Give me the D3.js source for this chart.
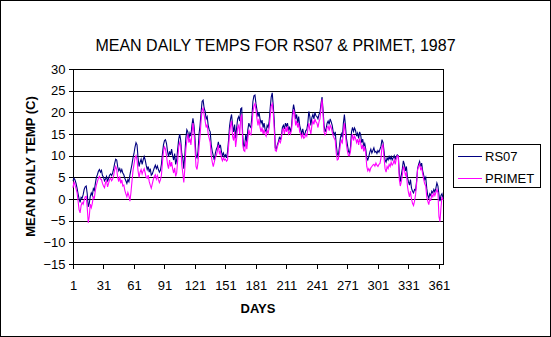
<!DOCTYPE html>
<html>
<head>
<meta charset="utf-8">
<script src="https://cdn.jsdelivr.net/npm/d3@7"></script>
<style>
  body { margin: 0; background: #fff; }
  svg { display: block; }
  text { font-family: "Liberation Sans", Arial, sans-serif; fill: #000; }
</style>
</head>
<body>
<svg id="chart" width="551" height="337"></svg>
<script>
// ---- data ----
const rs07 = [
  4.2, 4.8, 4.4, 3.6, 2.5, 1.2, 0.0, -0.8, 0.4, 0.2,
  1.0, 2.2, 2.8, 3.0, 1.2, -1.8, -1.0, 0.6, 1.4, 0.8,
  2.4, 2.0, 3.6, 5.0, 5.6, 6.4, 6.8, 6.2, 6.6, 5.4,
  5.0, 4.2, 4.6, 5.2, 4.0, 4.8, 5.5, 5.8, 5.4, 6.0,
  7.0, 8.2, 9.2, 9.0, 7.4, 6.5, 7.0, 6.2, 6.8, 6.0,
  5.6, 4.8, 4.2, 3.6, 4.5, 4.0, 5.5, 6.8, 8.0, 9.5,
  10.5, 12.0, 13.0, 12.5, 9.5, 7.5, 8.5, 9.2, 8.0, 9.0,
  9.8, 9.0, 7.8, 6.8, 7.5, 6.2, 7.0, 5.5, 5.8, 6.5,
  7.2, 7.8, 7.0, 7.6, 6.8, 6.2, 6.6, 8.0, 10.5, 12.5,
  13.5, 13.7, 12.8, 11.0, 9.8, 11.0, 10.2, 11.5, 10.0, 9.0,
  10.5, 8.0, 9.0, 11.5, 13.8, 15.0, 13.5, 10.5, 9.5, 7.0,
  10.0, 14.0, 16.0, 15.5, 14.0, 15.2, 14.5, 17.0, 18.6, 17.0,
  14.0, 10.0, 9.5, 11.0, 15.0, 17.0, 20.0, 22.5, 22.8, 21.0,
  20.2, 18.5, 19.0, 17.0, 16.0, 15.5, 12.5, 11.0, 10.0, 9.0,
  10.5, 11.5, 12.0, 13.2, 11.8, 12.5, 11.0, 10.0, 10.6, 9.8,
  10.2, 9.5, 10.8, 13.5, 16.8, 18.5, 19.5, 17.0, 15.5, 17.2,
  14.0, 16.5, 18.5, 19.0, 18.0, 20.8, 21.0, 14.5, 12.0, 12.5,
  15.0, 13.0, 16.0, 17.5, 16.8, 16.5, 19.0, 22.5, 23.8, 24.0,
  22.0, 20.5, 19.0, 20.0, 18.5, 17.5, 18.2, 16.5, 17.5, 16.0,
  15.5, 17.0, 16.5, 18.0, 21.0, 23.5, 24.5, 21.5, 18.0, 11.8,
  11.5, 12.5, 13.2, 14.2, 13.8, 14.5, 16.5, 17.0, 16.2, 17.5,
  16.8, 17.5, 16.0, 16.5, 15.5, 16.8, 20.0, 21.8, 20.5, 18.5,
  19.5, 17.5, 19.0, 17.0, 16.0, 15.0, 16.2, 15.0, 14.8, 15.8,
  16.0, 17.5, 20.2, 19.0, 17.0, 18.8, 19.5, 18.5, 20.0, 19.2,
  19.0, 18.5, 19.5, 20.0, 22.0, 23.5, 20.5, 17.0, 15.5, 16.2,
  17.5, 18.0, 17.2, 18.5, 17.8, 17.0, 15.5, 14.8, 15.5, 12.5,
  10.5, 10.0, 11.8, 14.0, 15.0, 14.2, 17.5, 19.5, 17.0, 14.0,
  12.5, 11.0, 10.5, 12.0, 15.5, 16.5, 15.6, 16.4, 15.8, 14.5,
  15.2, 14.0, 15.5, 14.8, 13.0, 13.8, 12.2, 12.8, 11.5, 9.5,
  9.0, 9.8, 10.8, 11.5, 10.6, 11.2, 11.8, 10.8, 11.0, 10.5,
  11.2, 10.8, 11.5, 12.2, 13.7, 13.0, 11.0, 9.0, 8.5, 9.5,
  9.0, 9.8, 9.2, 9.8, 9.0, 9.5, 10.0, 9.2, 9.8, 10.2,
  10.0, 6.0, 4.0, 5.5, 7.0, 8.8, 8.0, 6.5, 7.5, 5.0,
  4.0, 3.2, 4.5, 2.5, 1.8, 1.4, 2.2, 2.0, 4.0, 7.0,
  8.0, 8.7, 7.5, 8.3, 6.5, 5.5, 4.5, 5.0, 2.5, 0.8,
  0.2, 1.2, 0.8, 1.8, 1.4, 2.2, 1.6, 2.5, 3.7, 3.0,
  1.0, -0.5, 0.8, 1.2, 0.2
];
const primet = [
  2.6, 4.0, 3.2, 2.4, 1.5, -0.5, -2.5, -3.2, -1.5, -0.8,
  -1.2, -0.2, 0.5, 0.6, -2.0, -5.5, -4.0, -1.2, -2.0, -1.0,
  0.5, 0.2, 2.0, 3.2, 4.0, 4.8, 5.2, 4.6, 4.5, 3.6,
  3.0, 2.6, 3.8, 4.2, 2.8, 3.6, 4.5, 4.8, 4.2, 4.6,
  5.4, 6.8, 7.5, 6.8, 5.0, 4.0, 5.2, 3.6, 4.4, 3.0,
  3.2, 2.0, 1.2, 0.5, 1.5, 0.8, -0.5, 1.5, 4.0, 6.5,
  8.0, 9.5, 10.0, 9.0, 6.5, 5.0, 6.2, 6.8, 5.8, 6.5,
  7.0, 6.0, 5.0, 4.8, 5.5, 4.0, 3.2, 2.5, 3.5, 4.5,
  5.2, 5.6, 4.6, 5.4, 4.5, 3.8, 4.4, 5.5, 8.5, 11.0,
  12.0, 11.5, 10.0, 8.0, 7.0, 9.0, 7.5, 8.5, 7.0, 6.0,
  7.2, 5.2, 6.0, 9.0, 12.0, 13.0, 12.2, 8.0, 6.0, 3.8,
  7.0, 11.5, 13.5, 15.0, 13.0, 14.0, 12.5, 15.0, 17.5, 15.5,
  12.0, 7.5, 6.8, 8.5, 12.0, 14.5, 18.0, 20.5, 21.0, 19.5,
  18.0, 16.5, 17.2, 15.0, 14.0, 13.0, 10.0, 8.5, 7.5, 8.5,
  9.5, 10.0, 11.0, 12.5, 10.5, 11.0, 9.5, 8.8, 9.5, 9.0,
  9.2, 8.7, 9.0, 12.0, 15.0, 17.0, 18.0, 14.5, 13.5, 15.5,
  12.0, 14.0, 16.5, 17.0, 15.0, 18.5, 19.5, 12.5, 11.2, 11.0,
  13.5, 11.5, 14.0, 16.0, 15.0, 14.8, 17.0, 20.0, 21.5, 22.0,
  20.5, 18.5, 17.0, 18.5, 16.5, 15.5, 16.5, 15.0, 16.0, 15.0,
  14.5, 15.8, 15.2, 16.5, 19.0, 21.5, 22.0, 20.0, 16.0, 11.2,
  11.0, 12.0, 12.8, 13.5, 13.0, 14.0, 15.8, 16.2, 15.0, 16.5,
  15.5, 16.8, 15.0, 15.5, 15.0, 16.0, 18.5, 20.6, 19.5, 17.0,
  18.0, 16.5, 17.5, 15.5, 15.0, 14.2, 15.0, 14.0, 14.2, 15.0,
  14.5, 16.0, 17.5, 16.0, 15.0, 17.0, 18.0, 17.2, 18.5, 17.8,
  17.5, 16.5, 17.8, 18.5, 21.0, 23.0, 19.5, 15.5, 14.8, 15.2,
  16.5, 16.8, 15.8, 17.0, 16.5, 15.5, 14.5, 14.0, 13.5, 10.5,
  9.0, 9.2, 10.5, 12.5, 13.5, 13.0, 15.5, 17.5, 15.0, 12.5,
  11.0, 10.0, 10.0, 11.0, 13.5, 15.0, 13.5, 14.5, 14.0, 13.0,
  13.8, 12.5, 14.0, 13.0, 11.5, 12.5, 11.0, 12.0, 10.5, 7.5,
  6.5, 7.0, 6.4, 7.2, 7.5, 7.8, 8.0, 7.6, 8.3, 7.8,
  7.5, 8.0, 8.2, 9.5, 12.0, 12.5, 9.5, 7.0, 6.2, 7.5,
  7.0, 8.0, 7.5, 8.5, 7.8, 8.2, 9.0, 8.0, 9.2, 10.0,
  9.8, 4.5, 3.0, 4.0, 5.5, 7.5, 6.8, 5.5, 6.0, 3.0,
  1.5, 0.5, 1.8, 0.0, -1.0, -1.5, -0.5, 1.0, 3.5, 6.8,
  7.5, 8.0, 6.8, 7.2, 5.8, 4.5, 3.5, 3.0, 0.5, -0.5,
  -1.3, 0.0, -0.2, 1.0, 0.5, 1.4, 0.8, 1.5, 2.2, 1.5,
  -4.0, -5.2, -2.0, 0.5, -0.2
];
const seriesNames = ["RS07", "PRIMET"];
const seriesColors = ["#000080", "#FF00FF"];
const xTickLabels = [1, 31, 61, 91, 121, 151, 181, 211, 241, 271, 301, 331, 361];
const yTickLabels = [-15, -10, -5, 0, 5, 10, 15, 20, 25, 30];
const titleText = "MEAN DAILY TEMPS FOR RS07 & PRIMET, 1987";
const xTitle = "DAYS";
const yTitle = "MEAN DAILY TEMP (C)";

// ---- layout ----
const W = 551, H = 337;
const plot = { left: 73, right: 443, top: 69, bottom: 264 };
const svg = d3.select("#chart");

svg.append("rect").attr("x", 0.5).attr("y", 0.5).attr("width", W - 1).attr("height", H - 1)
  .attr("fill", "#fff").attr("stroke", "#000").attr("stroke-width", 1);

const x = d3.scaleLinear().domain([1, rs07.length]).range([plot.left, plot.right]);
const y = d3.scaleLinear().domain([-15, 30]).range([plot.bottom, plot.top]);

// gridlines
svg.append("g").selectAll("line").data(yTickLabels).join("line")
  .attr("x1", plot.left).attr("x2", plot.right)
  .attr("y1", d => Math.round(y(d)) + 0.5).attr("y2", d => Math.round(y(d)) + 0.5)
  .attr("stroke", "#000").attr("stroke-width", 1).attr("shape-rendering", "crispEdges");

// plot border
svg.append("rect").attr("x", plot.left + 0.5).attr("y", plot.top + 0.5)
  .attr("width", plot.right - plot.left).attr("height", plot.bottom - plot.top)
  .attr("fill", "none").attr("stroke", "#000").attr("shape-rendering", "crispEdges");

// axes
const yAxis = d3.axisLeft(y).tickValues(yTickLabels).tickSize(5).tickPadding(3).tickFormat(d3.format("d"));
const gy = svg.append("g").attr("transform", `translate(${plot.left + 0.5},0)`).call(yAxis);
gy.select(".domain").remove();
gy.selectAll("line").attr("shape-rendering", "crispEdges");
gy.selectAll("text").attr("font-size", 13).attr("font-family", '"Liberation Sans", Arial, sans-serif');

const xAxis = d3.axisBottom(x).tickValues(xTickLabels).tickSize(4).tickPadding(12).tickFormat(d3.format("d"));
const gx = svg.append("g").attr("transform", `translate(0,${plot.bottom + 0.5})`).call(xAxis);
gx.select(".domain").remove();
gx.selectAll("line").attr("shape-rendering", "crispEdges");
gx.selectAll("text").attr("font-size", 13).attr("font-family", '"Liberation Sans", Arial, sans-serif');

// series lines
const series = [rs07, primet];
const line = d3.line().x((d, i) => x(i + 1)).y(d => y(d));
series.forEach((vals, k) => {
  svg.append("path").datum(vals).attr("d", line)
    .attr("fill", "none").attr("stroke", seriesColors[k]).attr("stroke-width", 1.1)
    .attr("stroke-linejoin", "miter");
});

// titles
svg.append("text").attr("x", W / 2).attr("y", 51).attr("text-anchor", "middle")
  .attr("font-size", 16).text(titleText);
svg.append("text").attr("x", (plot.left + plot.right) / 2).attr("y", 313).attr("text-anchor", "middle")
  .attr("font-size", 13).attr("font-weight", "bold").text(xTitle);
svg.append("text").attr("transform", `translate(35,${(plot.top + plot.bottom) / 2}) rotate(-90)`)
  .attr("text-anchor", "middle").attr("font-size", 13).attr("font-weight", "bold").text(yTitle);

// legend
const lg = svg.append("g");
lg.append("rect").attr("x", 453.5).attr("y", 144.5).attr("width", 87).attr("height", 43)
  .attr("fill", "#fff").attr("stroke", "#000").attr("shape-rendering", "crispEdges");
seriesNames.forEach((name, k) => {
  const ly = 156 + k * 22;
  lg.append("line").attr("x1", 458).attr("x2", 482).attr("y1", ly + 0.5).attr("y2", ly + 0.5)
    .attr("stroke", seriesColors[k]).attr("stroke-width", 1).attr("shape-rendering", "crispEdges");
  lg.append("text").attr("x", 485).attr("y", ly).attr("dy", "0.35em")
    .attr("font-size", 13).text(name);
});
</script>
</body>
</html>
